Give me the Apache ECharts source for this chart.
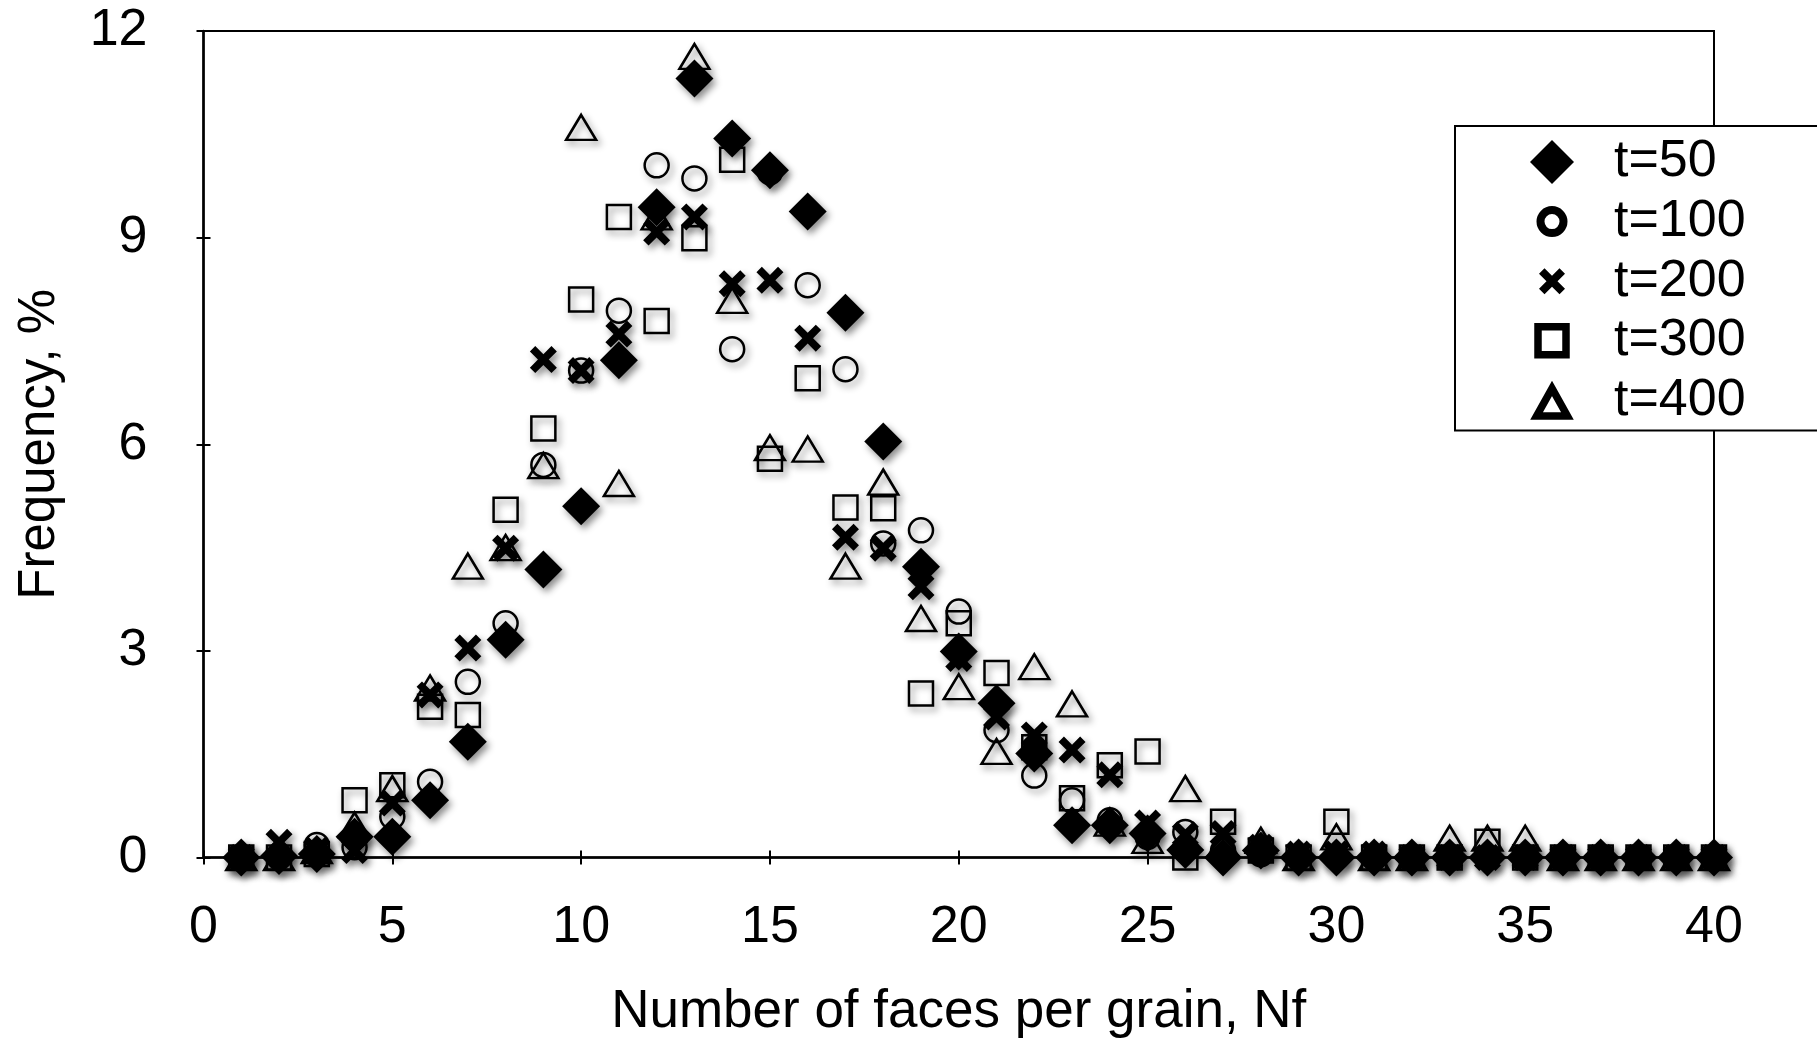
<!DOCTYPE html>
<html>
<head>
<meta charset="utf-8">
<script src="https://cdn.jsdelivr.net/npm/echarts@6/dist/echarts.min.js"></script>
<style>
  html, body { margin: 0; padding: 0; background: #fff; }
  #chart { width: 1817px; height: 1039px; }
</style>
</head>
<body>
<div id="chart"></div>
<script>
// Number of faces per grain (Nf)
var faces = [1, 2, 3, 4, 5, 6, 7, 8, 9, 10, 11, 12, 13, 14, 15, 16, 17, 18, 19, 20,
             21, 22, 23, 24, 25, 26, 27, 28, 29, 30, 31, 32, 33, 34, 35, 36, 37, 38, 39, 40];

// Frequency (%) at each time step
var t50 = [0, 0.02, 0.05, 0.3, 0.3, 0.83, 1.68, 3.16, 4.18, 5.1,
           7.22, 9.44, 11.31, 10.44, 9.98, 9.38, 7.91, 6.04, 4.22, 2.99,
           2.24, 1.51, 0.47, 0.47, 0.35, 0.11, 0, 0.1, 0, 0,
           0, 0, 0, 0, 0, 0, 0, 0, 0, 0];
var t100 = [0, 0, 0.18, 0.15, 0.59, 1.1, 2.55, 3.4, 5.7, 7.07,
            7.94, 10.05, 9.86, 7.38, 9.95, 8.31, 7.09, 4.56, 4.75, 3.57,
            1.85, 1.19, 0.83, 0.54, 0.3, 0.37, 0.1, 0.05, 0, 0,
            0, 0, 0, 0, 0, 0, 0, 0, 0, 0];
var t200 = [0, 0.22, 0.1, 0.1, 0.79, 2.36, 3.04, 4.49, 7.23, 7.07,
            7.6, 9.08, 9.3, 8.33, 8.38, 7.54, 4.65, 4.49, 3.93, 2.89,
            2.04, 1.78, 1.56, 1.2, 0.5, 0.33, 0.35, 0.15, 0.05, 0.05,
            0.05, 0, 0, 0, 0, 0, 0, 0, 0, 0];
var t300 = [0, 0, 0.05, 0.83, 1.05, 2.19, 2.07, 5.05, 6.23, 8.1,
            9.3, 7.79, 8.99, 10.13, 5.79, 6.96, 5.08, 5.07, 2.38, 3.4,
            2.68, 1.6, 0.86, 1.34, 1.54, 0, 0.52, 0.1, 0, 0.52,
            0, 0, 0, 0.23, 0, 0, 0, 0, 0, 0];
var t400 = [0, 0, 0.1, 0.47, 1.0, 2.46, 4.23, 4.5, 5.69, 10.6,
            5.43, 9.3, 11.63, 8.09, 5.95, 5.93, 4.23, 5.45, 3.47, 2.48,
            1.54, 2.77, 2.23, 0.5, 0.25, 1.0, 0.2, 0.25, 0, 0.3,
            0, 0, 0.28, 0.28, 0.28, 0, 0, 0, 0, 0];

var seriesNames = ['t=50', 't=100', 't=200', 't=300', 't=400'];
var xTicks = { min: 0, max: 40, interval: 5 };
var yTicks = { min: 0, max: 12, interval: 3 };

var FONT = '"Liberation Sans", Arial, sans-serif';

// thick "x" marker
var crossPath = 'path://M0,2L2,0L5,3L8,0L10,2L7,5L10,8L8,10L5,7L2,10L0,8L3,5Z';

// legend icons on a 44x44 box (leading moves fix the box extent)
var legCircle = 'path://M0,0M44,44M10.5,22A11.5,11.5,0,1,1,33.5,22A11.5,11.5,0,1,1,10.5,22Z';
var legCross = 'path://M0,0M44,44M9,14.5L14.5,9L22,16.5L29.5,9L35,14.5L27.5,22L35,29.5L29.5,35L22,27.5L14.5,35L9,29.5L16.5,22Z';
var legSquare = 'path://M0,0M44,44M8,8L36,8L36,36L8,36Z';
var legTriangle = 'path://M0,0M44,44M22,10L37.4,37.5L6.6,37.5Z';

function pairs(vals) {
  return faces.map(function (x, i) { return [x, vals[i]]; });
}

var shadow = {
  shadowBlur: 7,
  shadowColor: 'rgba(0,0,0,0.45)',
  shadowOffsetX: 3,
  shadowOffsetY: 4
};

function filledStyle() {
  return Object.assign({ color: '#000', borderWidth: 0, opacity: 1 }, shadow);
}
function hollowStyle() {
  return Object.assign({ color: 'rgba(0,0,0,0)', borderColor: '#000', borderWidth: 2.5, opacity: 1 }, shadow);
}

var chart = echarts.init(document.getElementById('chart'), null, { renderer: 'canvas' });

var axisLabelStyle = { fontFamily: FONT, fontSize: 52, color: '#000' };

var option = {
  animation: false,
  backgroundColor: '#fff',
  grid: {
    left: 203.5, right: 103, top: 31, bottom: 181.5,
    containLabel: false,
    outerBoundsMode: 'none',
    show: true, borderColor: '#000', borderWidth: 2, backgroundColor: 'transparent'
  },
  xAxis: [
    {
      type: 'value', min: xTicks.min, max: xTicks.max, interval: xTicks.interval,
      splitLine: { show: false },
      axisLine: { show: true, onZero: false, lineStyle: { color: '#000', width: 2.5 } },
      axisTick: { show: true, inside: false, length: 7, lineStyle: { color: '#000', width: 2 } },
      axisLabel: Object.assign({ margin: 44 }, axisLabelStyle),
      name: 'Number of faces per grain, Nf',
      nameLocation: 'middle',
      nameGap: 128,
      nameTextStyle: { fontFamily: FONT, fontSize: 53, color: '#000' }
    },
    {
      type: 'value', min: xTicks.min, max: xTicks.max, interval: xTicks.interval,
      position: 'bottom',
      splitLine: { show: false },
      axisLine: { show: false },
      axisTick: { show: true, inside: true, length: 7, lineStyle: { color: '#000', width: 2 } },
      axisLabel: { show: false }
    }
  ],
  yAxis: [
    {
      type: 'value', min: yTicks.min, max: yTicks.max, interval: yTicks.interval,
      splitLine: { show: false },
      axisLine: { show: true, onZero: false, lineStyle: { color: '#000', width: 2.5 } },
      axisTick: { show: true, inside: false, length: 7, lineStyle: { color: '#000', width: 2 } },
      axisLabel: Object.assign({ margin: 56 }, axisLabelStyle),
      name: 'Frequency, %',
      nameLocation: 'middle',
      nameGap: 138,
      nameTextStyle: { fontFamily: FONT, fontSize: 51, color: '#000' }
    },
    {
      type: 'value', min: yTicks.min, max: yTicks.max, interval: yTicks.interval,
      position: 'left',
      splitLine: { show: false },
      axisLine: { show: false },
      axisTick: { show: true, inside: true, length: 7, lineStyle: { color: '#000', width: 2 } },
      axisLabel: { show: false }
    }
  ],
  legend: {
    orient: 'vertical',
    left: 1455,
    top: 126,
    padding: [10, 73, 4, 71],
    itemWidth: 44,
    itemHeight: 44,
    itemGap: 7.6,
    selectedMode: false,
    backgroundColor: '#fff',
    borderColor: '#000',
    borderWidth: 2,
    borderRadius: 0,
    textStyle: { fontFamily: FONT, fontSize: 52, color: '#000', lineHeight: 52, padding: [0, 0, 0, 35] },
    data: [
      { name: seriesNames[0], icon: 'diamond', itemStyle: { color: '#000', borderWidth: 0, opacity: 1 } },
      { name: seriesNames[1], icon: legCircle, itemStyle: { color: 'rgba(0,0,0,0)', borderColor: '#000', borderWidth: 8, opacity: 1 } },
      { name: seriesNames[2], icon: legCross, itemStyle: { color: '#000', borderWidth: 0, opacity: 1 } },
      { name: seriesNames[3], icon: legSquare, itemStyle: { color: 'rgba(0,0,0,0)', borderColor: '#000', borderWidth: 7.5, opacity: 1 } },
      { name: seriesNames[4], icon: legTriangle, itemStyle: { color: 'rgba(0,0,0,0)', borderColor: '#000', borderWidth: 7.5, opacity: 1 } }
    ]
  },
  series: [
    { name: seriesNames[0], type: 'scatter', symbol: 'diamond', symbolSize: 38,
      itemStyle: filledStyle(), data: pairs(t50) },
    { name: seriesNames[1], type: 'scatter', symbol: 'circle', symbolSize: 24,
      itemStyle: hollowStyle(), data: pairs(t100) },
    { name: seriesNames[2], type: 'scatter', symbol: crossPath, symbolSize: 27,
      itemStyle: filledStyle(), data: pairs(t200) },
    { name: seriesNames[3], type: 'scatter', symbol: 'rect', symbolSize: 24,
      itemStyle: hollowStyle(), data: pairs(t300) },
    { name: seriesNames[4], type: 'scatter', symbol: 'triangle', symbolSize: [30, 25],
      itemStyle: hollowStyle(), data: pairs(t400) }
  ]
};

chart.setOption(option);
</script>
</body>
</html>
